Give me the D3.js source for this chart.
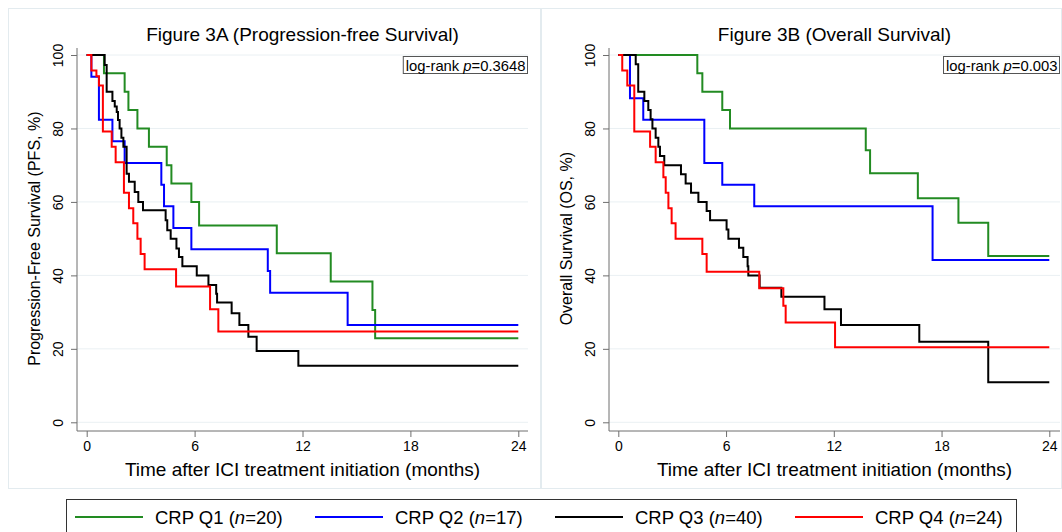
<!DOCTYPE html>
<html>
<head>
<meta charset="utf-8">
<script src="https://cdn.jsdelivr.net/npm/d3@7"></script>
<style>
  body { margin: 0; background: #fff; }
  svg { display: block; font-family: "Liberation Sans", Arial, sans-serif; }
</style>
</head>
<body>
<div id="chart"></div>
<script>
// tick values
var monthTicks = [0, 6, 12, 18, 24];
var pctTicks = [0, 20, 40, 60, 80, 100];

// groups
var groupNames = ["CRP Q1", "CRP Q2", "CRP Q3", "CRP Q4"];
var groupN = [20, 17, 40, 24];
var groupColors = ["#228b22", "#0000ff", "#000000", "#ff0000"];

// Figure 3A, PFS: [month, % surviving] at each step
var pfsQ1 = [[0,100],[0.96,95],[2.11,90],[2.32,85],[2.82,80],[3.46,75],[4.45,70],[4.71,65],[5.82,60],[6.25,53.6],[10.57,46],[13.57,38.3],[15.89,30.6],[16.04,22.9]];
var pfsQ2 = [[0,100],[0.26,94.1],[0.68,82.4],[1.43,76.5],[2.11,70.6],[4.15,64.7],[4.3,58.8],[4.82,52.9],[5.82,47.1],[10.07,41.2],[10.2,35.3],[14.51,26.5]];
var pfsQ3 = [[0,100],[1.0,97.3],[1.11,90],[1.43,87.5],[1.56,86],[1.67,84.5],[1.74,82.3],[1.83,80],[1.93,77.5],[2.04,75],[2.22,67.7],[2.35,65.5],[2.67,62.7],[2.87,60],[3.13,57.7],[4.39,55],[4.48,52.3],[4.67,50],[4.99,47.3],[5.13,45],[5.32,42.5],[6.12,40],[6.77,37.4],[7.2,35],[7.25,32.6],[8.06,29.7],[8.49,26.5],[8.99,23.3],[9.45,19.4],[11.77,15.4]];
var pfsQ4 = [[0,100],[0.26,95.8],[0.54,94.2],[0.68,91.7],[0.9,79.2],[1.39,75],[1.61,70.8],[2.07,62.5],[2.35,58.3],[2.59,54.2],[2.82,50],[3.0,45.8],[3.22,41.7],[4.97,37],[6.86,30.8],[7.32,24.7]];

// Figure 3B, OS
var osQ1 = [[0,100],[4.4,95],[4.68,90],[5.79,85],[6.22,80],[13.78,74.1],[14.02,67.8],[16.68,61],[18.94,54.3],[20.6,45.3]];
var osQ2 = [[0,100],[0.65,88.2],[1.39,82.4],[4.79,70.6],[5.79,64.7],[7.57,58.8],[17.5,44.2]];
var osQ3 = [[0,100],[0.97,97.5],[1.11,90],[1.45,87.5],[1.67,85],[1.8,82.5],[1.9,80],[2.08,77.5],[2.23,75],[2.32,72.5],[2.56,70],[3.49,67.5],[3.75,65],[4.05,62.5],[4.46,60],[4.92,57.5],[5.11,55],[6.03,52.5],[6.13,50],[6.72,47.5],[6.96,45],[7.2,42.5],[7.24,40],[7.87,36.6],[9.08,34.2],[11.48,30.8],[12.4,26.5],[16.76,21.9],[20.6,10.9]];
var osQ4 = [[0,100],[0.22,95.8],[0.5,91.7],[0.89,79.2],[1.77,75],[2.08,70.8],[2.51,66.7],[2.64,62.5],[2.79,58.3],[2.97,54.2],[3.19,50],[4.68,45.8],[4.92,41],[7.85,36.5],[9.19,31.7],[9.32,27.2],[12.07,20.4]];

var panelTitles = ["Figure 3A (Progression-free Survival)", "Figure 3B (Overall Survival)"];
var yTitles = ["Progression-Free Survival (PFS, %)", "Overall Survival (OS, %)"];
var pValues = ["0.3648", "0.003"];
var xTitle = "Time after ICI treatment initiation (months)";

var W = 1062, H = 532;
var svg = d3.select("#chart").append("svg")
    .attr("width", W)
    .attr("height", H);

var panels = [
  {series: [pfsQ1, pfsQ2, pfsQ3, pfsQ4], left: 77, x0: 86.7, x1: 518.3, right: 528, box: [8, 8, 541, 489]},
  {series: [osQ1, osQ2, osQ3, osQ4], left: 609, x0: 618.3, x1: 1049.3, right: 1060, box: [541, 8, 1062, 489]}
];

var y = d3.scaleLinear().domain([0, 100]).range([422.3, 55]);
var axisY = 431;
var gridColor = "#eaf0f3";
var axisColor = "#6e6e6e";

panels.forEach(function(p, i) {
  var g = svg.append("g");

  // panel frame
  g.append("rect")
    .attr("x", p.box[0] + 0.5).attr("y", p.box[1] + 0.5)
    .attr("width", p.box[2] - p.box[0] - 1).attr("height", p.box[3] - p.box[1] - 1)
    .attr("fill", "none")
    .attr("stroke", "#e3ebef");

  var x = d3.scaleLinear().domain([0, 24]).range([p.x0, p.x1]);

  // gridlines
  g.selectAll(".grid")
    .data(pctTicks)
    .enter().append("line")
      .attr("x1", p.left).attr("x2", p.right)
      .attr("y1", function(d) { return y(d); })
      .attr("y2", function(d) { return y(d); })
      .attr("stroke", gridColor)
      .attr("stroke-width", 1);

  // y axis
  var yAx = g.append("g")
    .attr("transform", "translate(" + p.left + ",0)")
    .call(d3.axisLeft(y).tickValues(pctTicks).tickSize(6).tickSizeOuter(0));
  yAx.select(".domain").remove();
  yAx.selectAll(".tick line").attr("stroke", axisColor);
  yAx.selectAll(".tick text")
    .attr("x", 0).attr("dy", 0)
    .attr("transform", "translate(-14,0) rotate(-90)")
    .style("text-anchor", "middle")
    .style("font-size", "14px")
    .attr("fill", "#000");
  g.append("line")
    .attr("x1", p.left).attr("x2", p.left)
    .attr("y1", 48).attr("y2", axisY)
    .attr("stroke", axisColor);

  // x axis
  var xAx = g.append("g")
    .attr("transform", "translate(0," + axisY + ")")
    .call(d3.axisBottom(x).tickValues(monthTicks).tickSize(6).tickSizeOuter(0));
  xAx.select(".domain").remove();
  xAx.selectAll(".tick line").attr("stroke", axisColor);
  xAx.selectAll(".tick text")
    .attr("y", 10)
    .style("font-size", "14px")
    .attr("fill", "#000");
  g.append("line")
    .attr("x1", p.left).attr("x2", p.right)
    .attr("y1", axisY).attr("y2", axisY)
    .attr("stroke", axisColor);

  var cx = (p.left + p.right) / 2;

  // titles
  g.append("text")
    .attr("x", cx).attr("y", 41)
    .attr("text-anchor", "middle")
    .style("font-size", "19px")
    .text(panelTitles[i]);

  g.append("text")
    .attr("x", cx).attr("y", 476)
    .attr("text-anchor", "middle")
    .style("font-size", "19px")
    .text(xTitle);

  g.append("text")
    .attr("transform", "translate(" + (p.left - 37) + "," + y(50) + ") rotate(-90)")
    .attr("text-anchor", "middle")
    .style("font-size", "16px")
    .text(yTitles[i]);

  // survival curves
  var line = d3.line()
    .curve(d3.curveStepAfter)
    .x(function(d) { return x(d[0]); })
    .y(function(d) { return y(d[1]); });

  p.series.forEach(function(s, k) {
    var pts = s.concat([[24, s[s.length - 1][1]]]);
    g.append("path")
      .datum(pts)
      .attr("fill", "none")
      .attr("stroke", groupColors[k])
      .attr("stroke-width", 2)
      .attr("d", line);
  });

  // log-rank box
  var box = g.append("rect");
  var lr = g.append("text")
    .attr("x", p.right - 2.5).attr("y", 70.5)
    .attr("text-anchor", "end")
    .style("font-size", "14.8px");
  lr.append("tspan").text("log-rank ");
  lr.append("tspan").style("font-style", "italic").text("p");
  lr.append("tspan").text("=" + pValues[i]);
  var bb = lr.node().getBBox();
  box
    .attr("x", bb.x - 2.5).attr("y", 56.5)
    .attr("width", bb.width + 4.5).attr("height", 17)
    .attr("fill", "#fff")
    .attr("stroke", "#555");
});

// legend
var legend = svg.append("g");
legend.append("rect")
  .attr("x", 66.5).attr("y", 499.5)
  .attr("width", 950).attr("height", 40)
  .attr("fill", "#fff")
  .attr("stroke", "#333");

groupNames.forEach(function(name, k) {
  var lx = 75 + k * 240;
  legend.append("line")
    .attr("x1", lx).attr("x2", lx + 68)
    .attr("y1", 517).attr("y2", 517)
    .attr("stroke", groupColors[k])
    .attr("stroke-width", 2);
  var t = legend.append("text")
    .attr("x", lx + 80).attr("y", 523.5)
    .style("font-size", "18.5px");
  t.append("tspan").text(name + " (");
  t.append("tspan").style("font-style", "italic").text("n");
  t.append("tspan").text("=" + groupN[k] + ")");
});
</script>
</body>
</html>
